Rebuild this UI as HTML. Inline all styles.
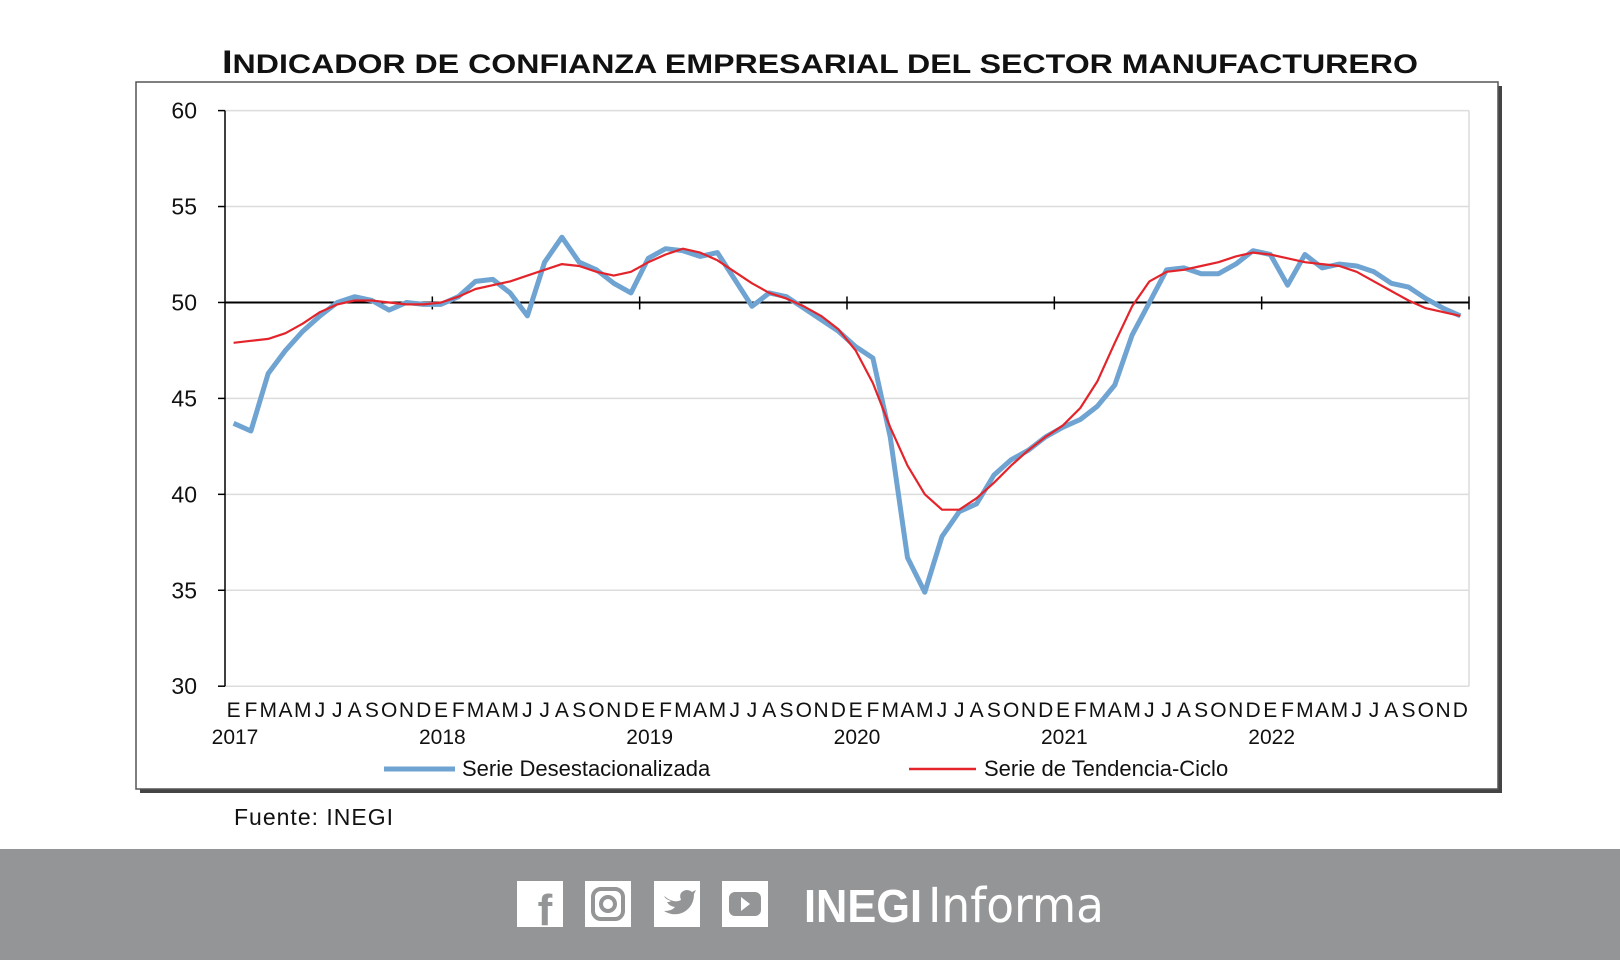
<!DOCTYPE html>
<html><head><meta charset="utf-8">
<style>
body{margin:0;width:1620px;height:960px;background:#fff;overflow:hidden;font-family:"Liberation Sans",Arial,sans-serif;position:relative}
</style></head>
<body>
<svg width="1620" height="960" viewBox="0 0 1620 960" style="position:absolute;left:0;top:0">
<text x="222" y="73" font-family="Liberation Sans" font-weight="bold" font-size="27" fill="#111" textLength="1196" lengthAdjust="spacingAndGlyphs"><tspan font-size="32">I</tspan>NDICADOR DE CONFIANZA EMPRESARIAL DEL SECTOR MANUFACTURERO</text>
<rect x="140" y="86" width="1362" height="707" fill="#444"/>
<rect x="136" y="82" width="1362" height="707" fill="#fff" stroke="#555" stroke-width="1.5"/>
<g id="grid"></g>
<g id="axes"></g>
<g id="series"></g>
<g>
<line x1="384" y1="769" x2="455" y2="769" stroke="#6fa3d1" stroke-width="5"/>
<text x="462" y="776" font-size="22" fill="#111">Serie Desestacionalizada</text>
<line x1="909" y1="769" x2="976" y2="769" stroke="#e3242b" stroke-width="2.5"/>
<text x="984" y="776" font-size="22" fill="#111">Serie de Tendencia-Ciclo</text>
</g>
<text x="234" y="825" font-size="23" fill="#111" letter-spacing="1">Fuente: INEGI</text>
<rect x="0" y="849" width="1620" height="111" fill="#939597"/>
<g><rect x="517" y="881" width="46" height="46" fill="#fff"/><text x="545" y="925" font-size="44" font-weight="bold" fill="#939597" text-anchor="middle">f</text></g>
<g><rect x="585" y="881" width="46" height="46" fill="#fff"/><rect x="593" y="889" width="30" height="30" rx="8" fill="none" stroke="#939597" stroke-width="4"/><circle cx="608" cy="904" r="7" fill="none" stroke="#939597" stroke-width="4"/></g>
<g><rect x="654" y="881" width="46" height="46" fill="#fff"/><path d="M664 896 q10 8 17 4 q-3 -8 5 -10 q4 0 6 2 l4 -2 l-2 4 q0 12 -10 18 q-10 5 -20 -1 q8 0 11 -4 q-6 -1 -8 -5 q3 0 4 -1 q-6 -2 -7 -5z" fill="#939597"/></g>
<g><rect x="722" y="881" width="46" height="46" fill="#fff"/><rect x="729" y="892" width="32" height="24" rx="6" fill="#939597"/><path d="M741 897 l9 7 l-9 7z" fill="#fff"/></g>
<text x="804" y="922" font-size="46" font-weight="bold" fill="#fff" textLength="118" lengthAdjust="spacingAndGlyphs">INEGI</text>
<text x="928" y="922" font-size="48" fill="#fff" font-family="DejaVu Sans" textLength="176" lengthAdjust="spacingAndGlyphs">Informa</text>
</svg>
<script>
const categories = ["2017","2018","2019","2020","2021","2022"];
const monthLetters = ["E","F","M","A","M","J","J","A","S","O","N","D"];
const yTicks = [30,35,40,45,50,55,60];
const desestacionalizada = [43.7,43.3,46.3,47.5,48.5,49.3,50.0,50.3,50.1,49.6,50.0,49.9,
 49.9,50.3,51.1,51.2,50.5,49.3,52.1,53.4,52.1,51.7,51.0,50.5,
 52.3,52.8,52.7,52.4,52.6,51.2,49.8,50.5,50.3,49.7,49.1,48.5,
 47.7,47.1,43.0,36.7,34.9,37.8,39.1,39.5,41.0,41.8,42.3,43.0,
 43.5,43.9,44.6,45.7,48.3,50.0,51.7,51.8,51.5,51.5,52.0,52.7,
 52.5,50.9,52.5,51.8,52.0,51.9,51.6,51.0,50.8,50.2,49.7,49.3];
const tendencia = [47.9,48.0,48.1,48.4,48.9,49.5,49.9,50.1,50.1,50.0,49.9,49.9,
 50.0,50.3,50.7,50.9,51.1,51.4,51.7,52.0,51.9,51.6,51.4,51.6,
 52.1,52.5,52.8,52.6,52.2,51.6,51.0,50.5,50.2,49.8,49.3,48.6,
 47.5,45.8,43.5,41.5,40.0,39.2,39.2,39.8,40.6,41.5,42.3,43.0,
 43.6,44.5,45.9,47.9,49.8,51.1,51.6,51.7,51.9,52.1,52.4,52.6,
 52.5,52.3,52.1,52.0,51.9,51.6,51.1,50.6,50.1,49.7,49.5,49.3];
const NS="http://www.w3.org/2000/svg";
const L=225,R=1469,T=110.6,B=686.2,N=categories.length*12;
const xs=i=>L+(i+0.5)*(R-L)/N;
const ys=v=>B-(v-30)*(B-T)/30;
function mk(tag,attrs,parent,txt){const e=document.createElementNS(NS,tag);for(const k in attrs)e.setAttribute(k,attrs[k]);if(txt!==undefined)e.textContent=txt;document.getElementById(parent).appendChild(e);return e;}
yTicks.forEach(v=>{
  if(v!==50){const g=mk('line',{x1:L,x2:R,y1:ys(v),y2:ys(v),stroke:'#dcdcdc','stroke-width':1.5},'grid');
  
  }
  const t=mk('line',{x1:L-7,x2:L,y1:ys(v),y2:ys(v),stroke:'#000','stroke-width':1.5},'axes');
  
  
  const lb=mk('text',{x:197,y:ys(v)+8,'text-anchor':'end','font-size':23,fill:'#111'},'axes',String(v));
  
  
});
const rr=mk('line',{x1:R,x2:R,y1:T,y2:B,stroke:'#dcdcdc','stroke-width':1.5},'grid');


const ya=mk('line',{x1:L,x2:L,y1:T,y2:B,stroke:'#000','stroke-width':1.5},'axes');


const xa=mk('line',{x1:L,x2:R,y1:ys(50),y2:ys(50),stroke:'#000','stroke-width':2},'axes');


categories.forEach((c,k)=>{
  const x0=L+k*12*(R-L)/N;
  if(k>0){const tk=mk('line',{x1:x0,x2:x0,y1:ys(50)-6,y2:ys(50)+7,stroke:'#000','stroke-width':1.5},'axes');
  
  }
  monthLetters.forEach((m,j)=>{
    const t=mk('text',{x:xs(k*12+j),y:717,'text-anchor':'middle','font-size':21,fill:'#111'},'axes',m);
    
    
  });
  const yl=mk('text',{x:x0+10,y:744,'text-anchor':'middle','font-size':21,fill:'#111'},'axes',c);
  
  
});
const endTick=mk('line',{x1:R,x2:R,y1:ys(50)-6,y2:ys(50)+7,stroke:'#000','stroke-width':1.5},'axes');


function pts(a){return a.map((v,i)=>xs(i).toFixed(1)+','+ys(v).toFixed(1)).join(' ');}
const p1=mk('polyline',{points:pts(desestacionalizada),fill:'none',stroke:'#6fa3d1','stroke-width':5,'stroke-linejoin':'round'},'series');


const p2=mk('polyline',{points:pts(tendencia),fill:'none',stroke:'#e3242b','stroke-width':2.2,'stroke-linejoin':'round'},'series');


</script>
</body></html>
